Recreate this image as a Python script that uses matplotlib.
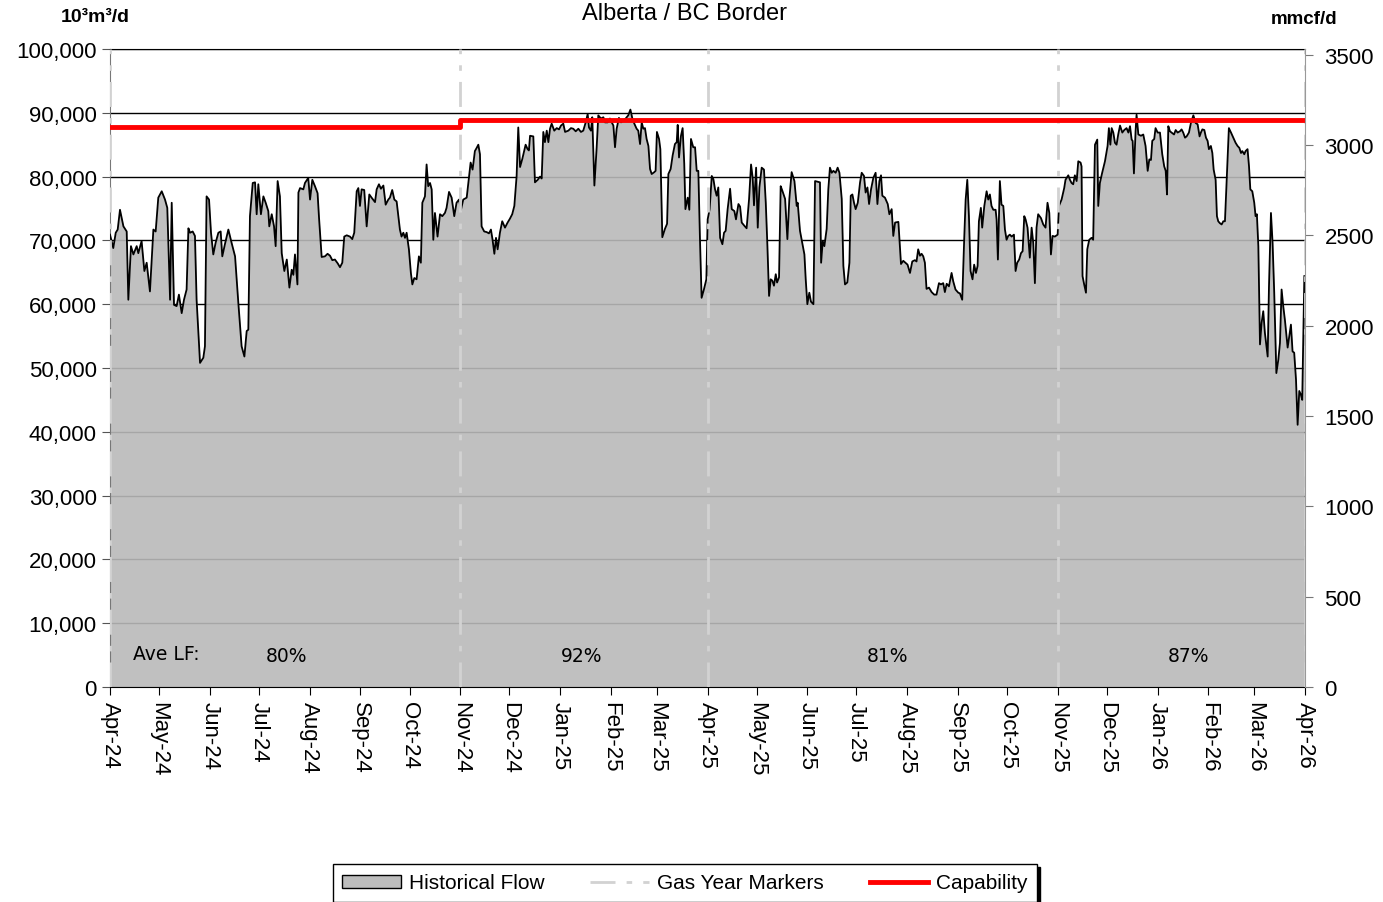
import matplotlib
matplotlib.use("Agg")
import matplotlib.pyplot as plt
import pandas as pd
from matplotlib.patches import Patch
from matplotlib.lines import Line2D
from matplotlib.ticker import FuncFormatter

plt.rcParams['font.family'] = ['Liberation Sans', 'DejaVu Sans']

start = pd.Timestamp('2024-04-01')
end = pd.Timestamp('2026-04-01')

# daily flow: days since 2024-04-01, 10^3 m3/d (thousands)
flow_day = [
    0, 2.0, 3.5, 4.7, 6.1, 8.2, 10.2, 11.2, 12.8, 14.3, 16.3, 17.3, 19.3, 21.0, 22.4, 24.4,
    26.5, 27.9, 29.5, 31.6, 33.6, 35.0, 36.7, 37.7, 39.1, 40.7, 42.1, 43.8, 45.2, 46.8, 47.9,
    48.9, 50.5, 51.9, 52.9, 54.0, 55.0, 57.0, 58.0, 59.0, 60.5, 61.7, 63.1, 64.5, 66.2, 67.6,
    68.6, 70.2, 72.3, 74.3, 76.4, 78.4, 80.4, 82.1, 83.5, 84.5, 85.5, 87.2, 88.6, 89.6, 90.6,
    92.2, 93.7, 95.1, 96.7, 97.3, 98.8, 100.2, 101.2, 102.4, 103.8, 104.9, 106.5, 108.0, 109.6,
    111.0, 112.0, 113.0, 114.5, 115.1, 116.1, 118.1, 119.1, 121.1, 122.2, 123.6, 125.2,
    126.8, 127.7, 129.3, 131.3, 132.9, 134.4, 135.8, 137.4, 139.1, 140.5, 141.9, 143.1, 144.6,
    146.6, 148.0, 149.2, 150.7, 151.7, 152.7, 153.7, 155.3, 156.8, 158.4, 159.8, 161.9, 162.9,
    164.3, 165.5, 167.0, 168.4, 170.0, 171.0, 172.4, 173.7, 175.1, 177.1, 178.1, 179.2, 180.2,
    181.2, 182.6, 183.8, 184.7, 185.9, 187.3, 188.7, 189.9, 190.8, 192.4, 193.4, 194.4, 195.5,
    196.5, 197.5, 198.5, 200.1, 201.6, 203.0, 204.6, 205.6, 207.1, 208.7, 210.3, 211.7, 213.2,
    214.4, 215.8, 217.9, 218.9, 220.3, 221.5, 222.9, 224.0, 225.0, 226.0, 227.0, 228.6, 230.1,
    231.5, 232.7, 233.7, 234.8, 235.8, 236.8, 238.2, 239.6, 241.3, 242.9, 244.3, 245.7, 247.0,
    248.4, 249.4, 250.5, 251.9, 253.1, 253.9, 255.1, 255.9, 256.6, 258.6, 259.6, 261.3, 262.7,
    263.7, 264.7, 265.7, 266.8, 267.8, 268.8, 269.8, 271.4, 272.9, 274.3, 275.5, 276.9, 278.0,
    280.0, 281.6, 283.0, 284.5, 286.1, 287.7, 289.1, 290.6, 291.8, 292.6, 293.8, 294.6, 295.9,
    297.3, 298.3, 299.9, 301.4, 302.4, 304.0, 305.4, 306.5, 307.5, 308.5, 309.5, 310.9, 312.2,
    313.6, 315.0, 316.6, 317.9, 319.1, 320.3, 321.7, 322.7, 323.8, 324.8, 325.8, 326.8, 327.8,
    328.9, 329.9, 330.9, 332.5, 333.3, 334.1, 335.4, 336.2, 337.4, 339.0, 340.3, 341.1, 342.5,
    343.7, 345.1, 346.2, 346.8, 347.6, 348.8, 349.8, 350.8, 351.5, 352.9, 353.9, 354.9, 356.3,
    357.4, 358.4, 359.4, 360.4, 361.4, 362.8, 364.3,
    365.1, 366.3, 367.6, 368.6, 369.6, 370.6, 371.6, 372.7, 374.1, 375.1, 376.1, 377.3, 378.8,
    379.8, 381.4, 382.4, 383.9, 384.9, 385.9, 387.5, 388.9, 390.4, 391.6, 392.6, 393.4, 394.7,
    395.7, 396.7, 398.1, 399.5, 400.6, 401.6, 402.6, 403.6, 404.6, 405.6, 406.7, 407.5, 408.7,
    409.7, 410.7, 412.4, 413.8, 415.0, 416.4, 418.1, 419.5, 420.1, 421.5, 423.0, 424.2, 425.0,
    426.0, 427.2, 428.2, 429.7, 430.7, 432.3, 433.7, 434.4, 435.4, 436.4, 437.8, 438.8, 439.8,
    440.9, 441.9, 443.3, 444.5, 445.6, 447.0, 448.0, 449.0, 450.4, 451.7, 452.5, 453.5, 454.5,
    455.5, 456.8, 458.2, 459.2, 460.6, 461.6, 462.7, 463.7, 464.9, 466.3, 467.7, 468.8, 470.0,
    471.0, 471.8, 473.4, 475.1, 476.1, 477.5, 478.5, 479.6, 481.6, 483.2, 484.6,
    487.2, 488.7, 490.1, 491.7, 492.7, 493.7, 494.8, 495.8, 496.8, 497.8, 498.8, 500.3, 501.9,
    503.5, 504.9, 506.4, 507.6, 509.0, 510.0, 511.1, 512.5, 514.1, 515.1, 516.5, 518.2, 519.2,
    520.6, 521.8, 522.7, 523.7, 524.7, 525.7, 526.9, 527.9, 529.0, 530.0, 530.8, 532.0, 532.8,
    534.1, 535.5, 536.5, 537.5, 538.5, 539.6, 541.0, 541.6, 542.4, 543.6, 544.6, 545.7, 546.7,
    547.7, 548.7, 549.7, 550.8, 552.2, 553.2, 554.2, 555.4, 556.5, 557.5, 558.5, 559.3, 560.5,
    561.9, 563.0, 564.0, 565.0, 566.0, 567.0, 568.7, 570.1, 571.5, 572.7, 573.8, 574.8, 575.8,
    577.2, 578.9, 579.7, 581.3, 582.9, 583.7, 585.4, 586.4, 587.4, 588.4, 589.4, 590.5, 591.5,
    592.9, 593.5, 594.1, 595.1, 596.2, 597.0, 598.2, 599.6, 600.6, 601.7, 603.1, 603.7, 604.7,
    606.1,
    607.8, 609.4, 610.2, 611.1, 611.9, 612.9, 613.9, 614.9, 615.9, 617.0, 618.4, 619.6, 621.0,
    622.1, 623.1, 624.1, 624.7, 625.5, 626.5, 627.1, 628.2, 629.8, 631.2, 632.6, 633.9, 634.9,
    635.9, 636.7, 637.9, 638.7, 640.0, 641.4, 642.8, 644.0, 644.9, 645.7, 646.5, 647.5, 648.5,
    650.0, 651.0, 652.2, 653.6, 654.6, 655.6, 656.7, 657.7, 659.1, 660.3, 661.8, 663.2, 664.4,
    665.6, 666.4, 667.3, 668.5, 669.5, 670.5, 671.3, 672.5, 673.4, 674.2, 675.4, 676.2, 677.0,
    678.0, 679.1, 680.1, 681.1, 682.1, 683.5, 684.8, 686.2, 687.6, 688.8, 689.9, 690.9, 691.7,
    692.9, 693.7, 694.9, 695.8, 696.6, 697.8, 699.0, 699.8, 700.6, 701.5, 702.5, 703.5, 704.5,
    705.5, 707.2, 708.0, 709.2, 710.2, 711.2, 712.5, 713.7, 714.7, 715.7, 716.7, 717.7, 719.4,
    720.4, 721.4, 722.4, 723.4, 724.5, 725.5, 726.5, 727.5, 728.3, 729.6,
]

flow_kcm = [
    70.9, 68.8, 71.2, 71.7, 74.8, 72.2, 71.4, 60.7, 69.1, 67.8, 69.1, 68.0, 69.9, 65.2, 66.5, 62.0,
    71.7, 71.4, 76.7, 77.7, 76.4, 75.1, 60.7, 75.9, 59.9, 59.7, 61.5, 58.6, 60.7, 62.3, 71.9,
    71.2, 71.4, 70.7, 60.7, 55.5, 50.8, 51.6, 53.4, 76.9, 76.4, 71.2, 67.8, 69.6, 71.2, 71.4,
    67.5, 69.4, 71.7, 69.6, 67.5, 60.2, 53.4, 51.8, 55.8, 56.0, 73.8, 79.0, 79.1, 74.1, 78.8,
    74.1, 76.9, 75.9, 74.6, 72.2, 74.1, 72.2, 69.1, 79.3, 76.9, 68.0, 65.2, 67.0, 62.6,
    65.4, 64.6, 67.8, 63.1, 77.5, 78.2, 78.0, 79.0, 79.8, 76.4, 79.5, 78.5,
    77.4, 73.5, 67.4, 67.5, 67.9, 67.6, 66.9, 67.0, 66.4, 65.8, 66.5, 70.6, 70.8,
    70.6, 70.2, 71.2, 77.7, 78.2, 75.4, 78.0, 77.9, 72.2, 77.2, 76.7, 76.0, 78.0,
    78.8, 78.1, 78.6, 75.6, 76.4, 76.7, 77.9, 76.4, 76.1, 71.7, 70.6, 71.2, 70.4,
    71.2, 68.6, 64.9, 63.1, 64.1, 63.9, 67.5, 66.5, 75.9, 76.9, 81.9, 78.5, 79.0,
    78.0, 70.1, 74.3, 70.6, 74.1, 73.8, 74.3, 75.1, 77.6, 76.7, 73.8, 75.9, 76.4,
    74.8, 76.4, 76.7, 79.0, 82.2, 81.1, 84.0, 84.5, 85.0, 83.5, 72.2, 71.4, 71.3,
    71.1, 71.7, 70.1, 67.9, 70.4, 68.6, 71.2, 73.0, 72.0, 72.8, 73.4, 74.1, 75.4,
    80.1, 87.7, 81.5, 82.8, 84.1, 85.0, 84.3, 84.1, 86.4, 86.3, 79.1, 79.5, 80.0,
    79.7, 87.0, 85.4, 87.2, 85.4, 87.5, 88.3, 87.2, 87.6, 87.4, 88.0, 88.3, 87.0,
    87.2, 87.6, 87.5, 87.1, 87.5, 87.0, 87.2, 88.5, 89.8, 87.7, 87.2, 89.3, 78.6,
    84.6, 89.6, 89.1, 89.3, 88.5, 88.5, 89.1, 88.5, 88.0, 84.6, 87.5, 89.2, 88.5,
    88.8, 89.1, 89.6, 90.5, 89.1, 88.3, 87.5, 87.2, 85.1, 88.5, 87.5, 87.6, 85.9,
    84.8, 81.2, 80.4, 80.7, 80.9, 87.0, 85.9, 84.3, 70.5, 71.8, 72.6, 80.4, 81.2,
    83.3, 85.1, 85.4, 88.1, 83.0, 86.4, 87.6, 82.0, 74.9, 76.7, 74.8, 85.9, 84.6,
    84.6, 80.9, 80.9, 70.2, 61.0, 62.3, 63.9,
    73.3, 74.9, 80.1, 79.6, 78.0, 77.0, 78.3, 70.4, 69.4, 71.2, 71.5, 74.9, 78.1,
    74.9, 74.6, 73.3, 75.7, 75.3, 72.8, 72.3, 71.9, 76.5, 81.9, 79.8, 75.5, 81.4,
    72.0, 78.3, 81.4, 81.1, 75.9, 69.1, 61.3, 63.9, 63.7, 62.9, 64.7, 63.4, 64.2,
    78.5, 77.8, 76.5, 70.2, 76.5, 80.7, 79.3, 75.4, 75.9, 71.5, 69.4, 67.8, 63.9,
    60.0, 61.8, 60.4, 60.0, 79.3, 79.2, 79.1, 66.5, 69.9, 69.1, 71.8, 78.0, 81.4,
    80.6, 80.9, 80.6, 81.4, 80.6, 76.5, 66.0, 63.1, 63.4, 66.5, 77.0, 77.2, 75.9,
    74.9, 75.9, 79.1, 80.6, 80.1, 77.5, 78.3, 75.7, 78.0, 79.8, 80.6, 75.7, 79.3,
    80.2, 77.0, 76.7, 75.7, 74.1, 74.9, 70.7, 72.8, 72.9, 66.3, 66.8,
    66.2, 64.9, 66.7, 66.9, 66.7, 68.6, 67.6, 67.9, 67.5, 66.5, 62.4, 62.6, 61.9,
    61.5, 61.5, 63.3, 63.1, 63.3, 61.9, 63.2, 62.8, 64.9, 63.6, 62.3, 61.8, 61.7,
    60.7, 70.1, 76.4, 79.5, 73.8, 65.2, 63.9, 66.2, 64.9, 66.0, 73.0, 75.1, 72.0,
    75.4, 77.7, 76.4, 77.2, 75.4, 74.8, 74.8, 73.3, 67.0, 79.3, 75.6, 75.4, 71.7,
    70.1, 70.7, 70.9, 70.6, 70.9, 65.2, 66.5, 67.0, 68.0, 68.3, 73.8, 73.3, 72.0,
    67.3, 72.0, 69.6, 63.3, 72.0, 74.1, 73.5, 72.5, 72.0, 75.9, 74.3, 67.8, 70.7,
    70.6, 70.9, 75.4, 76.4, 78.2, 79.5, 80.2, 79.5, 79.0, 78.8, 80.2, 79.3, 82.4,
    82.2, 81.6, 64.4, 63.1, 61.8, 68.6, 70.1, 70.4, 70.1, 85.0, 85.8, 75.4, 79.0,
    80.6,
    82.4, 84.8, 87.6, 85.0, 87.6, 86.9, 85.3, 85.0, 86.6, 88.0, 86.9, 87.3, 87.6,
    86.9, 87.9, 85.8, 85.6, 80.5, 87.1, 89.7, 86.6, 86.4, 86.6, 84.8, 80.9, 82.7,
    82.6, 85.6, 85.9, 87.6, 86.9, 86.9, 83.5, 81.6, 80.9, 77.2, 87.9, 87.1, 86.9,
    86.6, 87.3, 86.9, 87.1, 87.4, 86.9, 86.1, 86.3, 86.9, 88.4, 89.6, 88.4, 88.2,
    86.3, 86.9, 87.4, 87.3, 86.1, 85.6, 84.3, 84.8, 83.7, 81.1, 79.5, 73.8, 73.0,
    72.7, 72.5, 73.0, 73.0, 79.0, 87.6, 86.9, 86.1, 85.3, 84.8, 84.5, 83.7, 84.0,
    83.5, 84.0, 84.3, 81.6, 78.0, 77.7, 75.9, 73.8, 74.1, 69.1, 53.7, 57.1, 58.9,
    55.5, 51.8, 62.8, 74.3, 69.6, 61.8, 49.2, 51.3, 53.9, 62.3, 59.7, 57.6, 53.2,
    55.0, 56.8, 52.6, 52.4, 48.2, 41.1, 46.4, 45.8, 45.0, 64.4,
]

# capability steps up at the start of the 2024/25 gas year
cap_dates = ['2024-04-01', '2024-11-01', '2026-04-01']
cap_values = [87800, 88900, 88900]

marker_dates = ['2024-04-01', '2024-11-01', '2025-04-01', '2025-11-01', '2026-04-01']

lf_labels = ['80%', '92%', '81%', '87%']
lf_dates = ['2024-07-18', '2025-01-14', '2025-07-20', '2026-01-20']

x = start + pd.to_timedelta(flow_day, unit='D')
y = [v * 1000 for v in flow_kcm]

fig = plt.figure(figsize=(13.83, 9.03), dpi=100)
ax = fig.add_axes([110 / 1383, 215 / 903, 1195 / 1383, 638 / 903])

ax.yaxis.grid(True, color='black', linewidth=1.0)
ax.set_axisbelow(True)
ax.fill_between(x, y, 0, color=(185 / 255,) * 3, alpha=0.9, linewidth=0, zorder=2)
ax.plot(x, y, color='black', linewidth=1.3, zorder=3)

for d in marker_dates:
    ax.axvline(pd.Timestamp(d), color='#d2d2d2', linewidth=2,
               dashes=(9, 4, 2, 4), zorder=3.5)

ax.step(pd.to_datetime(cap_dates), cap_values, where='post',
        color='#ff0000', linewidth=3.5, zorder=4)

ax.set_xlim(start, end)
ax.set_ylim(0, 100000)
ax.set_yticks(range(0, 100001, 10000))
ax.yaxis.set_major_formatter(FuncFormatter(lambda v, p: f'{int(v):,}'))

months = pd.date_range(start, end, freq='MS')
ax.set_xticks(months)
ax.set_xticklabels([m.strftime('%b-%y') for m in months], rotation=270,
                   fontsize=16)
ax.tick_params(axis='y', labelsize=16, direction='out', length=6, color='#555555')
ax.tick_params(axis='x', direction='out', length=6, pad=4)

ax.spines['left'].set_color('#777777')
ax.spines['right'].set_visible(False)

ax2 = ax.twinx()
ax2.set_ylim(0, 100000 * 0.0353147)
ax2.set_yticks(range(0, 3501, 500))
ax2.tick_params(axis='y', labelsize=16, direction='out', length=6,
                color='#777777', pad=8)
ax2.spines['right'].set_color('#999999')
for s in ['left', 'top', 'bottom']:
    ax2.spines[s].set_visible(False)

ax.text(pd.Timestamp('2024-04-15'), 5200, 'Ave LF:', family='DejaVu Sans',
        fontsize=13.5, va='center', ha='left', zorder=5)
for d, lab in zip(lf_dates, lf_labels):
    ax.text(pd.Timestamp(d), 5000, lab, family='DejaVu Sans', fontsize=13.5,
            va='center', ha='center', zorder=5)

fig.text(684 / 1383, 1 - 14 / 903, 'Alberta / BC Border', fontsize=17,
         ha='center', va='center')
fig.text(95 / 1383, 1 - 17 / 903, '10³m³/d', fontsize=14,
         fontweight='bold', ha='center', va='center')
fig.text(1304 / 1383, 1 - 19 / 903, 'mmcf/d', fontsize=13.5,
         fontweight='bold', ha='center', va='center')

handles = [
    Patch(facecolor='#bdbdbd', edgecolor='black', linewidth=1),
    Line2D([], [], color='#d2d2d2', linewidth=2, dashes=(9, 4, 2, 4)),
    Line2D([], [], color='#ff0000', linewidth=3.5),
]
labels = ['Historical Flow', 'Gas Year Markers', 'Capability']
leg = fig.legend(handles, labels, loc='center', ncol=3,
                 bbox_to_anchor=(685 / 1383, 1 - 884 / 903), fontsize=15,
                 frameon=True, fancybox=False, shadow={'color': 'black', 'alpha': 1},
                 edgecolor='black', handlelength=2.8, handleheight=0.6,
                 columnspacing=2.2, borderpad=0.45, handletextpad=0.4,
                 borderaxespad=0)
leg.get_frame().set_linewidth(1)

fig.savefig('out.png', dpi=100)
